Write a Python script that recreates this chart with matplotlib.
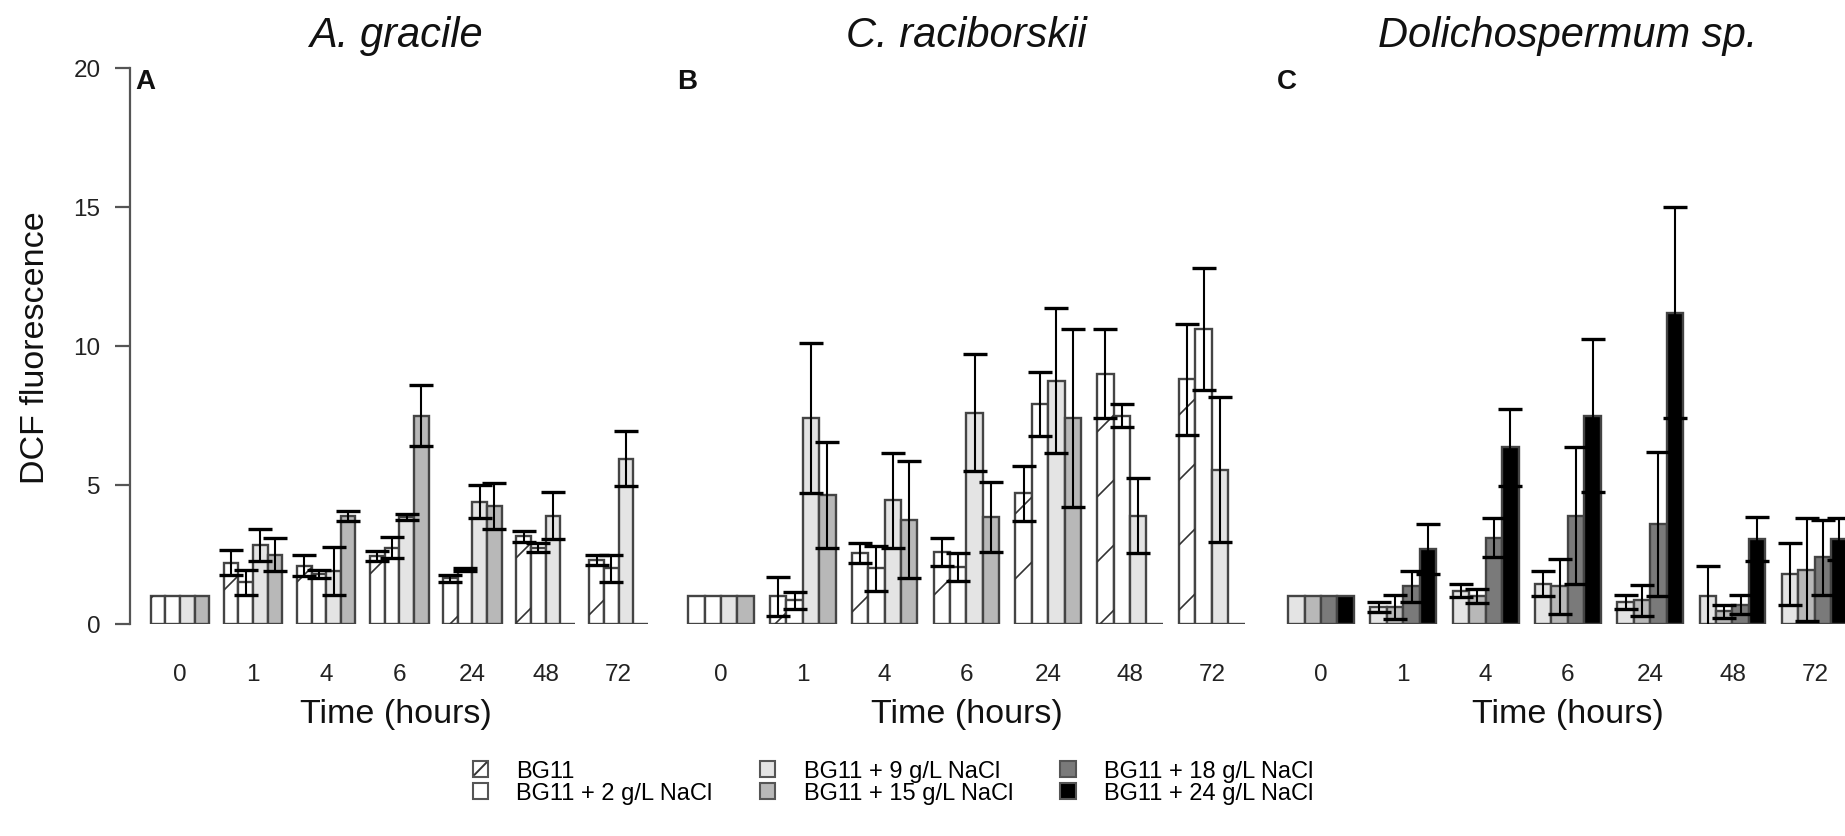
import numpy as np
import matplotlib
matplotlib.use('Agg')
import matplotlib.pyplot as plt
from matplotlib.patches import Patch, Rectangle
from matplotlib.lines import Line2D
from matplotlib.legend_handler import HandlerBase

plt.rcParams['font.family'] = ['Liberation Sans', 'DejaVu Sans']
plt.rcParams['hatch.linewidth'] = 1.0

nan = np.nan

# ---------------- data ----------------
times = ['0', '1', '4', '6', '24', '48', '72']
panel_titles = ['A. gracile', 'C. raciborskii', 'Dolichospermum sp.']
panel_letters = ['A', 'B', 'C']

treatments = ['BG11', 'BG11 + 2 g/L NaCl', 'BG11 + 9 g/L NaCl',
              'BG11 + 15 g/L NaCl', 'BG11 + 18 g/L NaCl', 'BG11 + 24 g/L NaCl']
treat_colors = ['#ffffff', '#ffffff', '#e4e4e4', '#b8b8b8', '#7a7a7a', '#000000']
treat_hatched = [True, False, False, False, False, False]

# Panel A (A. gracile): BG11, +2, +9, +15 g/L
a_bg11 = [1.0, 2.2, 2.1, 2.45, 1.65, 3.15, 2.3]
a_bg11_sd = [nan, 0.45, 0.38, 0.17, 0.13, 0.19, 0.19]
a_n2 = [1.0, 1.5, 1.8, 2.75, 1.95, 2.75, 2.0]
a_n2_sd = [nan, 0.45, 0.15, 0.37, 0.06, 0.15, 0.48]
a_n9 = [1.0, 2.85, 1.9, 3.85, 4.4, 3.9, 5.95]
a_n9_sd = [nan, 0.57, 0.87, 0.12, 0.6, 0.86, 1.0]
a_n15 = [1.0, 2.5, 3.9, 7.5, 4.25, 0.0, 0.0]
a_n15_sd = [nan, 0.6, 0.18, 1.08, 0.82, nan, nan]

# Panel B (C. raciborskii): BG11, +2, +9, +15 g/L
b_bg11 = [1.0, 1.0, 2.55, 2.6, 4.7, 9.0, 8.8]
b_bg11_sd = [nan, 0.7, 0.35, 0.5, 1.0, 1.6, 2.0]
b_n2 = [1.0, 0.85, 2.0, 2.05, 7.9, 7.5, 10.6]
b_n2_sd = [nan, 0.3, 0.8, 0.5, 1.15, 0.4, 2.2]
b_n9 = [1.0, 7.4, 4.45, 7.6, 8.75, 3.9, 5.55]
b_n9_sd = [nan, 2.7, 1.7, 2.1, 2.6, 1.35, 2.6]
b_n15 = [1.0, 4.65, 3.75, 3.85, 7.4, 0.0, 0.0]
b_n15_sd = [nan, 1.9, 2.1, 1.25, 3.2, nan, nan]

# Panel C (Dolichospermum sp.): +9, +15, +18, +24 g/L
c_n9 = [1.0, 0.62, 1.2, 1.45, 0.8, 1.0, 1.8]
c_n9_sd = [nan, 0.18, 0.23, 0.45, 0.25, 1.1, 1.1]
c_n15 = [1.0, 0.6, 1.0, 1.35, 0.85, 0.45, 1.95]
c_n15_sd = [nan, 0.43, 0.25, 1.0, 0.55, 0.25, 1.85]
c_n18 = [1.0, 1.35, 3.1, 3.9, 3.6, 0.7, 2.4]
c_n18_sd = [nan, 0.55, 0.7, 2.45, 2.6, 0.35, 1.35]
c_n24 = [1.0, 2.7, 6.35, 7.5, 11.2, 3.05, 3.05]
c_n24_sd = [nan, 0.9, 1.4, 2.75, 3.8, 0.8, 0.75]

panels = [
    ([a_bg11, a_n2, a_n9, a_n15], [a_bg11_sd, a_n2_sd, a_n9_sd, a_n15_sd], [0, 1, 2, 3]),
    ([b_bg11, b_n2, b_n9, b_n15], [b_bg11_sd, b_n2_sd, b_n9_sd, b_n15_sd], [0, 1, 2, 3]),
    ([c_n9, c_n15, c_n18, c_n24], [c_n9_sd, c_n15_sd, c_n18_sd, c_n24_sd], [2, 3, 4, 5]),
]

# ---------------- layout (pixels) ----------------
W, H = 1845, 837
fig = plt.figure(figsize=(W / 100, H / 100), dpi=100)

y_bottom_px, y_top_px = 625, 69
axes_specs = [
    # (left px, px per group, xlim)
    (130, 73.1, (-(180 - 130) / 73.1, 6.6)),
    (721 - 0.6 * 81.8, 81.8, (-0.6, 6.6)),
    (1321 - 0.6 * 82.3, 82.3, (-0.6, 6.6)),
]

edge_col = '#444444'
bar_w = 0.2


def hatch_bar(ax, rect, spacing=65.0, offset=22.0):
    x0, y0 = rect.get_x(), rect.get_y()
    w, h = rect.get_width(), rect.get_height()
    if h <= 0:
        return
    (px0, py0), (px1, py1) = ax.transData.transform([(x0, y0), (x0 + w, y0 + h)])
    cmin = py0 - px1
    cmax = py1 - px0
    k0 = int(np.ceil((cmin - offset) / spacing))
    k1 = int(np.floor((cmax - offset) / spacing))
    inv = ax.transData.inverted()
    for k in range(k0, k1 + 1):
        c = offset + k * spacing
        pts = np.array([(px0 - 2, px0 - 2 + c), (px1 + 2, px1 + 2 + c)])
        d = inv.transform(pts)
        ln = Line2D(d[:, 0], d[:, 1], color='#333333', lw=1.2, zorder=2.5)
        ax.add_line(ln)
        ln.set_clip_path(rect)


for p, (series, sds, tidx) in enumerate(panels):
    left_px, ppu, xlim = axes_specs[p]
    width_px = (xlim[1] - xlim[0]) * ppu
    ax = fig.add_axes([left_px / W, (H - y_bottom_px) / H,
                       width_px / W, (y_bottom_px - y_top_px) / H])
    ax.set_xlim(*xlim)
    ax.set_ylim(0, 20)
    ax.patch.set_alpha(0)
    x = np.arange(len(times))
    for j in range(4):
        ti = tidx[j]
        xs = x + (j - 1.5) * bar_w
        bars = ax.bar(xs, series[j], width=bar_w, color=treat_colors[ti],
                      edgecolor=edge_col, linewidth=1.7, zorder=2)
        if treat_hatched[ti]:
            for r in bars:
                hatch_bar(ax, r)
    for j in range(4):
        xs = x + (j - 1.5) * bar_w
        m = np.array(series[j], dtype=float)
        s = np.array(sds[j], dtype=float)
        ok = ~np.isnan(s)
        ax.errorbar(xs[ok], m[ok], yerr=s[ok], fmt='none', ecolor='black',
                    elinewidth=1.5, capsize=8.5, capthick=2.4, zorder=3)

    for sp in ['top', 'right', 'bottom']:
        ax.spines[sp].set_visible(False)
    ax.set_xticks(x)
    ax.set_xticklabels(times, fontsize=17.5, color='#222222')
    ax.tick_params(axis='x', length=0, pad=28)
    ax.set_xlabel('Time (hours)', fontsize=24.5, labelpad=9.5, color='#111111')

    if p == 0:
        ax.spines['left'].set_color('#555555')
        ax.spines['left'].set_linewidth(1.6)
        ax.spines['left'].set_bounds(0, 20)
        ax.set_yticks([0, 5, 10, 15, 20])
        ax.set_yticklabels(['0', '5', '10', '15', '20'], fontsize=17.5, color='#222222')
        ax.tick_params(axis='y', length=10.8, width=1.6, color='#555555', pad=10.5)
    else:
        ax.spines['left'].set_visible(False)
        ax.set_yticks([])

    ax.annotate(panel_letters[p], xy=(0, 1), xycoords='axes fraction',
                xytext=(4, 0), textcoords='offset points', ha='left', va='top',
                fontsize=20, fontweight='bold', color='#111111')

    cx = (left_px + width_px / 2) / W
    fig.text(cx, 1 - 36 / H, panel_titles[p], ha='center', va='center',
             fontsize=30, style='italic', color='#111111')

fig.text(36 / W, 1 - 348 / H, 'DCF fluorescence', rotation=90, ha='center',
         va='center', fontsize=24.5, color='#111111')


class HatchBoxHandler(HandlerBase):
    def create_artists(self, legend, orig_handle, xdescent, ydescent,
                       width, height, fontsize, trans):
        x0, y0 = -xdescent, -ydescent
        r = Rectangle((x0, y0), width, height, facecolor='white',
                      edgecolor='#555555', lw=1.5, transform=trans)
        ln = Line2D([x0 + 0.12 * width, x0 + 0.88 * width],
                    [y0 + 0.12 * height, y0 + 0.88 * height],
                    color='#333333', lw=1.4, transform=trans)
        return [r, ln]


handles = [Patch(facecolor=treat_colors[i], edgecolor='#555555', linewidth=1.5)
           for i in range(len(treatments))]
fig.legend(handles, treatments, ncol=3, loc='center',
           bbox_to_anchor=(893 / W, 1 - 783 / H), frameon=False, fontsize=17,
           handlelength=0.65, handleheight=0.65, handletextpad=1.2,
           columnspacing=2.0, labelspacing=0.0,
           handler_map={handles[0]: HatchBoxHandler()})

fig.savefig('out.png', dpi=100)
